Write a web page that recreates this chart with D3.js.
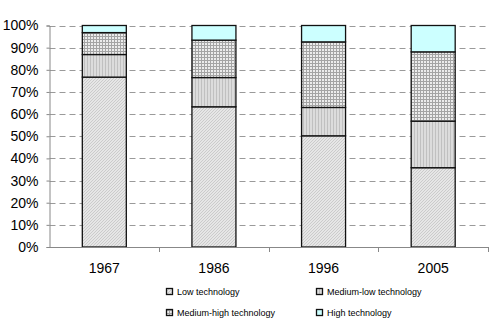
<!DOCTYPE html>
<html><head><meta charset="utf-8">
<script src="https://cdn.jsdelivr.net/npm/d3@7"></script>
<style>body{margin:0;background:#fff}svg{display:block;font-family:"Liberation Sans",Arial,sans-serif}</style>
</head><body>
<svg id="c" width="492" height="324"></svg>
<script>
const categories = ["1967","1986","1996","2005"];
const seriesNames = ["Low technology","Medium-low technology","Medium-high technology","High technology"];
const lowTech = [76.7, 63.3, 50.2, 35.8];
const mediumLowTech = [10.2, 13.2, 12.8, 21.0];
const mediumHighTech = [9.9, 16.9, 29.6, 31.3];
const highTech = [3.2, 6.6, 7.4, 11.9];
const yTicks = [0,10,20,30,40,50,60,70,80,90,100];

const svg = d3.select("#c");
const defs = svg.append("defs");
const p1 = defs.append("pattern").attr("id","pLow").attr("patternUnits","userSpaceOnUse").attr("width",3).attr("height",3);
p1.append("rect").attr("width",3).attr("height",3).attr("fill","#e6e6e6");
p1.append("path").attr("d","M0,3 L3,0 M-1,1 L1,-1 M2,4 L4,2").attr("stroke","#b8b8b8").attr("stroke-width",0.6);
const p2 = defs.append("pattern").attr("id","pML").attr("patternUnits","userSpaceOnUse").attr("width",3).attr("height",3);
p2.append("rect").attr("width",3).attr("height",3).attr("fill","#dcdcdc");
p2.append("rect").attr("x",0).attr("width",1).attr("height",3).attr("fill","#c0c0c0");
const p3 = defs.append("pattern").attr("id","pMH").attr("patternUnits","userSpaceOnUse").attr("width",3).attr("height",3);
p3.append("rect").attr("width",3).attr("height",3).attr("fill","#a4a4a4");
p3.append("rect").attr("x",1).attr("y",1).attr("width",2).attr("height",2).attr("fill","#ececec");
const fills = ["url(#pLow)","url(#pML)","url(#pMH)","#ccffff"];

const margin = {left:49.5, right:4, top:25.5, bottom:77};
const W = 492, H = 324;
const x = d3.scaleBand().domain(categories).range([margin.left, W - margin.right]).paddingInner(0).paddingOuter(0);
const y = d3.scaleLinear().domain([0,100]).range([H - margin.bottom, margin.top]);

const data = categories.map((c,i)=>({cat:c, v:[lowTech[i],mediumLowTech[i],mediumHighTech[i],highTech[i]]}));

svg.append("g").selectAll("line").data(yTicks.filter(t=>t>0)).join("line")
  .attr("x1", margin.left).attr("x2", W - margin.right)
  .attr("y1", d=>Math.round(y(d))+0.5).attr("y2", d=>Math.round(y(d))+0.5)
  .attr("stroke","#9a9a9a").attr("stroke-width",1).attr("stroke-dasharray","6,4");

const barW = 44;
data.forEach(d=>{
  let cum = 0;
  d.v.forEach((v,k)=>{
    const y0 = y(cum), y1 = y(cum+v);
    cum += v;
    svg.append("rect")
      .attr("x", x(d.cat) + x.bandwidth()/2 - barW/2)
      .attr("y", y1).attr("width", barW).attr("height", y0 - y1)
      .attr("fill", fills[k]).attr("stroke","#111").attr("stroke-width",1.3);
  });
});

const yAxis = svg.append("g").attr("transform",`translate(${margin.left},0)`)
  .call(d3.axisLeft(y).tickValues(yTicks).tickFormat(d=>d+"%").tickSize(3).tickPadding(8));
yAxis.select(".domain").attr("stroke","#888");
yAxis.selectAll(".tick line").attr("stroke","#888");
yAxis.selectAll("text").attr("font-size",14).attr("fill","#000").attr("font-family","Liberation Sans, Arial, sans-serif");

const xb = H - margin.bottom;
const xg = svg.append("g");
xg.append("line").attr("x1",margin.left).attr("x2",W-margin.right).attr("y1",xb+0.5).attr("y2",xb+0.5).attr("stroke","#888");
const bounds = categories.map(c=>x(c)+x.bandwidth());
xg.selectAll("line.t").data(bounds).join("line").attr("class","t")
  .attr("x1",d=>Math.round(d)+0.5).attr("x2",d=>Math.round(d)+0.5).attr("y1",xb).attr("y2",xb+5).attr("stroke","#888");
xg.selectAll("text").data(categories).join("text")
  .attr("x",d=>x(d)+x.bandwidth()/2).attr("y",xb+26)
  .attr("text-anchor","middle").attr("font-size",14).attr("fill","#000").text(d=>d);

const legPos = [[166,292],[316,292],[166,313],[316,313]];
seriesNames.forEach((n,k)=>{
  const g = svg.append("g").attr("transform",`translate(${legPos[k][0]},${legPos[k][1]})`);
  g.append("rect").attr("x",0.5).attr("y",-3.5).attr("width",6).attr("height",6).attr("fill",fills[k]).attr("stroke","#111").attr("stroke-width",1.3);
  g.append("text").attr("x",11).attr("y",3).attr("font-size",9).attr("fill","#000").text(n);
});
</script>
</body></html>
